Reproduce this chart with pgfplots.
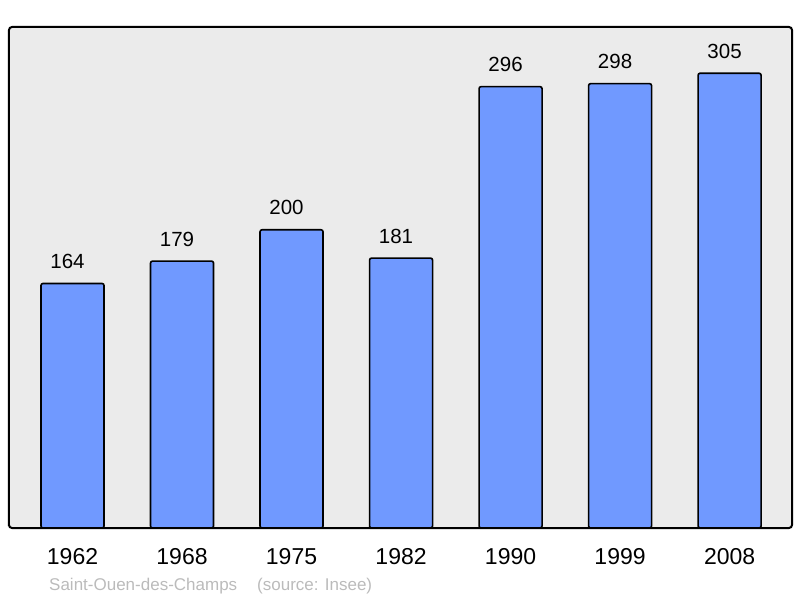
\documentclass[border=0pt]{standalone}
\usepackage{pgfplots}
\pgfplotsset{compat=1.18}
\usepackage{fontspec}
\setmainfont{Liberation Sans}
\definecolor{barblue}{RGB}{112,153,255}
\definecolor{bgray}{RGB}{235,235,235}
\definecolor{footgray}{RGB}{187,187,187}
\begin{document}
\begin{tikzpicture}[x=1pt,y=1pt]
\path[use as bounding box] (0,0) rectangle (800,598);
\begin{axis}[
  at={(9pt,70pt)}, anchor=south west,
  scale only axis, width=783pt, height=501pt,
  xmin=-0.58, xmax=6.57, ymin=0, ymax=336,
  /pgf/number format/assume math mode=true,
  axis background/.style={fill=bgray},
  axis line style={line width=2pt, rounded corners=3pt},
  ytick=\empty,
  xtick={0,1,2,3,4,5,6},
  xticklabels={1962,1968,1975,1982,1990,1999,2008},
  major tick length=0pt,
  xticklabel style={anchor=north, inner sep=0pt, yshift=-20pt, font=\fontsize{23}{27}\selectfont},
  ybar, bar width=63pt,
  nodes near coords,
  nodes near coords style={anchor=base, inner sep=0pt, yshift=15pt, xshift=-5pt, font=\fontsize{20.5}{24}\selectfont, text=black},
  clip=false,
]
\addplot[draw=black, line width=1.6pt, fill=barblue, rounded corners=2pt] coordinates {
  (0,164) (1,179) (2,200) (3,181) (4,296) (5,298) (6,305)
};
\end{axis}
\node[anchor=base west, inner sep=0pt, text=footgray, font=\fontsize{17}{20}\selectfont] at (49,8) {Saint-Ouen-des-Champs\hspace{20pt}(source: Insee)};
\end{tikzpicture}
\end{document}
